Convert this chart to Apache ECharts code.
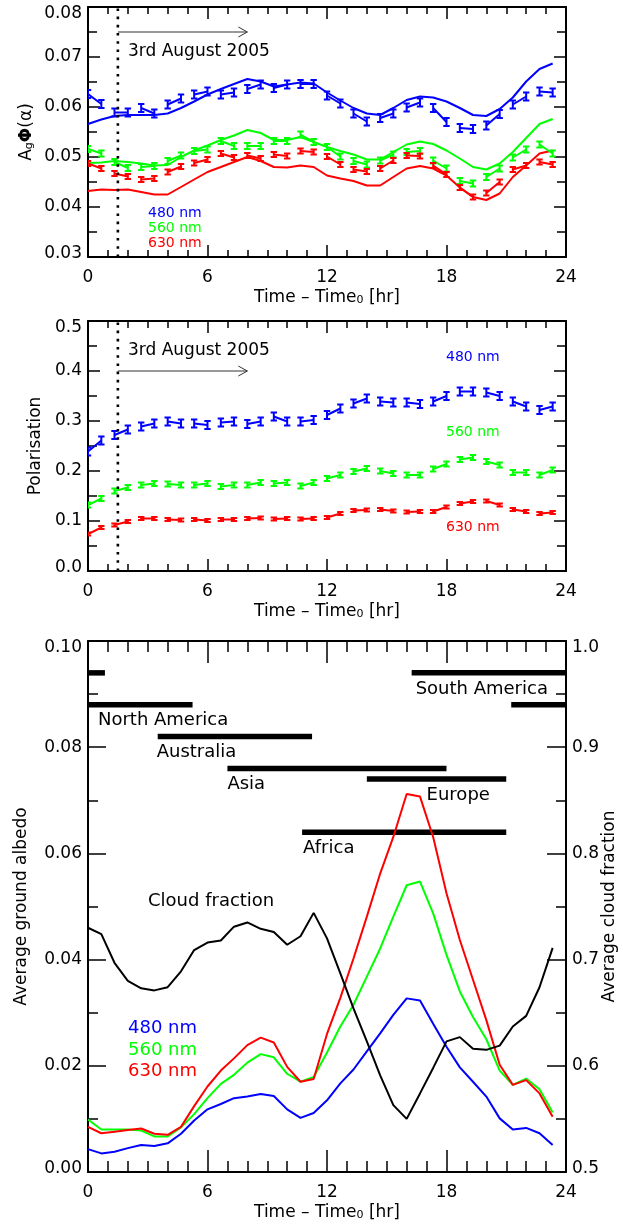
<!DOCTYPE html>
<html><head><meta charset="utf-8">
<script src="https://cdn.jsdelivr.net/npm/echarts@6/dist/echarts.min.js"></script>
<style>html,body{margin:0;padding:0;background:#fff}#c{width:623px;height:1232px}</style>
</head><body><div id="c"></div>
<script>
// ---------------- data ----------------
const T = [0,0.67,1.33,2,2.67,3.33,4,4.67,5.33,6,6.67,7.33,8,8.67,9.33,10,10.67,11.33,12,12.67,13.33,14,14.67,15.33,16,16.67,17.33,18,18.67,19.33,20,20.67,21.33,22,22.67,23.33];
const X_TICKS = [0, 24, 6];

// Panel 1: A_g Phi(alpha)
const P1_OBS_480 = [0.0626,0.0606,0.0589,0.0589,0.0598,0.0587,0.0605,0.0617,0.0625,0.0631,0.0625,0.0629,0.0636,0.0645,0.0638,0.0645,0.0646,0.0646,0.0623,0.0607,0.0587,0.0571,0.0578,0.0587,0.0599,0.0609,0.0598,0.0570,0.0558,0.0556,0.0563,0.0586,0.0605,0.0621,0.0631,0.0629];
const P1_OBS_560 = [0.0516,0.0507,0.0490,0.0478,0.0480,0.0482,0.0492,0.0503,0.0512,0.0515,0.0532,0.0522,0.0522,0.0522,0.0532,0.0532,0.0545,0.0530,0.0520,0.0501,0.0492,0.0485,0.0493,0.0505,0.0510,0.0512,0.0493,0.0477,0.0452,0.0447,0.0460,0.0477,0.0499,0.0515,0.0525,0.0507];
const P1_OBS_630 = [0.0487,0.0477,0.0467,0.0461,0.0455,0.0457,0.0470,0.0481,0.0488,0.0495,0.0507,0.0499,0.0503,0.0497,0.0505,0.0502,0.0512,0.0510,0.0501,0.0485,0.0475,0.0471,0.0477,0.0493,0.0503,0.0502,0.0483,0.0465,0.0439,0.0420,0.0428,0.0450,0.0475,0.0483,0.0490,0.0485];
const P1_ERR = [0.0008, 0.0006, 0.0005];
const P1_MOD_480 = [0.0566,0.0575,0.0582,0.0584,0.0584,0.0584,0.0587,0.0598,0.0611,0.0625,0.0636,0.0646,0.0656,0.0651,0.0641,0.0645,0.0649,0.0647,0.0629,0.0613,0.0598,0.0587,0.0584,0.0598,0.0614,0.0621,0.0619,0.0611,0.0598,0.0584,0.0582,0.0596,0.0619,0.0651,0.0676,0.0687];
const P1_MOD_560 = [0.0488,0.0489,0.0492,0.0490,0.0487,0.0483,0.0484,0.0500,0.0513,0.0523,0.0534,0.0543,0.0554,0.0548,0.0534,0.0534,0.0540,0.0530,0.0520,0.0512,0.0505,0.0495,0.0495,0.0510,0.0525,0.0531,0.0526,0.0513,0.0497,0.0480,0.0475,0.0487,0.0510,0.0538,0.0566,0.0576];
const P1_MOD_630 = [0.0432,0.0435,0.0434,0.0435,0.0430,0.0425,0.0425,0.0440,0.0455,0.0470,0.0480,0.0490,0.0500,0.0492,0.0480,0.0479,0.0483,0.0480,0.0463,0.0457,0.0452,0.0443,0.0443,0.0460,0.0477,0.0482,0.0477,0.0463,0.0439,0.0420,0.0414,0.0427,0.0460,0.0483,0.0507,0.0513];
const P1_Y_TICKS = [0.03, 0.08, 0.01];

// Panel 2: Polarisation
const P2_OBS_480 = [0.239,0.261,0.272,0.283,0.289,0.295,0.299,0.295,0.295,0.292,0.297,0.299,0.294,0.299,0.309,0.299,0.299,0.302,0.312,0.325,0.335,0.345,0.339,0.337,0.337,0.334,0.339,0.350,0.359,0.359,0.357,0.350,0.339,0.329,0.322,0.329];
const P2_OBS_560 = [0.132,0.145,0.160,0.167,0.172,0.175,0.174,0.172,0.172,0.175,0.169,0.172,0.172,0.177,0.175,0.177,0.170,0.177,0.185,0.192,0.199,0.205,0.200,0.195,0.192,0.192,0.204,0.214,0.223,0.227,0.219,0.212,0.197,0.197,0.192,0.202];
const P2_OBS_630 = [0.074,0.087,0.092,0.099,0.105,0.105,0.103,0.102,0.103,0.101,0.103,0.103,0.105,0.106,0.104,0.105,0.104,0.105,0.107,0.115,0.121,0.122,0.123,0.120,0.118,0.119,0.119,0.128,0.135,0.139,0.140,0.132,0.123,0.119,0.115,0.117];
const P2_ERR = [0.008, 0.005, 0.003];
const P2_Y_TICKS = [0, 0.5, 0.1];

// Panel 3: ground albedo and cloud fraction
const P3_ALB_480 = [0.0043,0.0035,0.0038,0.0045,0.0051,0.0049,0.0054,0.0072,0.0097,0.0118,0.0128,0.0139,0.0142,0.0147,0.0143,0.0118,0.0102,0.0111,0.0135,0.0167,0.0193,0.0227,0.0261,0.0296,0.0327,0.0323,0.0279,0.0236,0.0197,0.0170,0.0142,0.0101,0.0080,0.0083,0.0073,0.0051];
const P3_ALB_560 = [0.0099,0.0080,0.0080,0.0080,0.0078,0.0067,0.0067,0.0084,0.0109,0.0139,0.0166,0.0183,0.0206,0.0222,0.0216,0.0185,0.0170,0.0179,0.0225,0.0274,0.0315,0.0368,0.0421,0.0481,0.0540,0.0547,0.0487,0.0409,0.0340,0.0292,0.0250,0.0191,0.0164,0.0176,0.0156,0.0112];
const P3_ALB_630 = [0.0085,0.0073,0.0076,0.0079,0.0082,0.0072,0.0070,0.0085,0.0124,0.0161,0.0191,0.0214,0.0239,0.0253,0.0244,0.0198,0.0170,0.0175,0.0260,0.0328,0.0402,0.0481,0.0562,0.0631,0.0712,0.0707,0.0631,0.0525,0.0437,0.0362,0.0286,0.0202,0.0164,0.0173,0.0148,0.0104];
const P3_CLOUD = [0.730,0.724,0.697,0.680,0.673,0.671,0.674,0.689,0.709,0.716,0.718,0.731,0.735,0.729,0.726,0.714,0.722,0.744,0.720,0.687,0.654,0.623,0.591,0.563,0.550,0.574,0.598,0.623,0.627,0.616,0.615,0.619,0.637,0.647,0.674,0.711];
const P3_LEFT_TICKS = [0, 0.1, 0.02];
const P3_RIGHT_TICKS = [0.5, 1.0, 0.1];

// Regions in view (hours; end > 24 wraps round to the start of the axis)
const REGION_NAME  = ['South America','North America','Australia','Asia','Europe','Africa'];
const REGION_START = [16.25, 21.25, 3.5, 7.0, 14.0, 10.75];
const REGION_END   = [24.85, 29.25, 11.25, 18.0, 21.0, 21.0];
const REGION_LEVEL = [0.094, 0.088, 0.082, 0.076, 0.074, 0.064];
const REGION_LABEL_AT = [16.45, 0.5, 3.45, 7.0, 17.0, 10.8];

// Date marker
const DATE_LINE = 1.5;
const ARROW_END = 8.0;
const ARROW_LEVEL = [0.075, 0.40];
const DATE_TEXT = '3rd August 2005';
const WAVE_LABELS = ['480 nm', '560 nm', '630 nm'];

// ---------------- style ----------------
const FONT = '"DejaVu Sans", sans-serif';
const COL = ['#0000ff', '#00ff00', '#ff0000'];
const BLACK = '#000000';

const G = [
  {left: 88, top: 7, width: 478, height: 250},
  {left: 88, top: 321, width: 478, height: 250},
  {left: 88, top: 641, width: 478, height: 531}
];

const X_NAME = 'Time \u2013 Time{s|0} [hr]';
const nameStyle = {color: BLACK, fontSize: 17, fontFamily: FONT,
  rich: {
    n: {fontSize: 17, fontFamily: FONT, color: BLACK},
    s: {fontSize: 11, fontFamily: FONT, color: BLACK, verticalAlign: 'bottom', lineHeight: 10},
    g: {fontSize: 11, fontFamily: FONT, color: BLACK, verticalAlign: 'bottom', lineHeight: 10},
    b: {fontSize: 17, fontFamily: FONT, color: BLACK, fontWeight: 'bold'}
  }};
const labelRich = {
  t: {fontSize: 17, fontFamily: FONT, color: BLACK, padding: [13, 0, 0, 0]},
  m: {fontSize: 17, fontFamily: FONT, color: BLACK, padding: [0, 0, 7, 0]}
};

function xAx(grid, pos, major, minor) {
  const bottom = pos === 'bottom';
  return {
    gridIndex: grid, type: 'value', min: X_TICKS[0], max: X_TICKS[1], interval: X_TICKS[2], position: pos,
    axisLine: {show: true, onZero: false, lineStyle: {color: BLACK, width: 2}},
    axisTick: {show: true, inside: true, length: major, lineStyle: {color: BLACK, width: 1.5}},
    minorTick: {show: true, splitNumber: 6, length: minor, lineStyle: {color: BLACK, width: 1.5}},
    splitLine: {show: false}, minorSplitLine: {show: false},
    axisLabel: bottom ? {show: true, margin: 12, color: BLACK, fontSize: 17, fontFamily: FONT} : {show: false},
    name: bottom ? X_NAME : '', nameLocation: 'middle', nameGap: 32, nameMoveOverlap: false, nameTextStyle: nameStyle
  };
}
function yAx(grid, pos, ticks, dec, showLabel, major, minor, name, nameGap) {
  const span = ticks[1] - ticks[0];
  return {
    gridIndex: grid, type: 'value', min: ticks[0], max: ticks[1], interval: ticks[2], position: pos,
    axisLine: {show: true, onZero: false, lineStyle: {color: BLACK, width: 2}},
    axisTick: {show: true, inside: true, length: major, lineStyle: {color: BLACK, width: 1.5}},
    minorTick: {show: true, splitNumber: 2, length: minor, lineStyle: {color: BLACK, width: 1.5}},
    splitLine: {show: false}, minorSplitLine: {show: false},
    axisLabel: showLabel ? {show: true, margin: 6, color: BLACK, fontSize: 17, fontFamily: FONT, rich: labelRich,
      formatter: v => {
        const s = Number(v).toFixed(dec);
        if (Math.abs(v - ticks[1]) < span * 1e-6) return '{t|' + s + '}';
        if (Math.abs(v - ticks[0]) < span * 1e-6) return '{m|' + s + '}';
        return s;
      }} : {show: false},
    name: name || '', nameLocation: 'middle', nameGap: nameGap || 0, nameMoveOverlap: false, nameTextStyle: nameStyle
  };
}

function obsSeries(xi, yi, vals, err, color) {
  return {
    type: 'custom', xAxisIndex: xi, yAxisIndex: yi, clip: true, z: 4, silent: true,
    data: T.map((t, i) => [t, vals[i]]),
    renderItem: function (params, api) {
      const i = params.dataIndex;
      const x = api.value(0), y = api.value(1);
      const p = api.coord([x, y]);
      const top = api.coord([x, y + err]);
      const bot = api.coord([x, y - err]);
      const st = {stroke: color, lineWidth: 2, fill: null};
      const cw = 3.2;
      const ch = [
        {type: 'line', shape: {x1: p[0], y1: top[1], x2: p[0], y2: bot[1]}, style: st},
        {type: 'line', shape: {x1: p[0] - cw, y1: top[1], x2: p[0] + cw, y2: top[1]}, style: st},
        {type: 'line', shape: {x1: p[0] - cw, y1: bot[1], x2: p[0] + cw, y2: bot[1]}, style: st}
      ];
      if (i % 2 === 0 && i + 1 < T.length) {
        const q = api.coord([T[i + 1], vals[i + 1]]);
        ch.push({type: 'line', shape: {x1: p[0], y1: p[1], x2: q[0], y2: q[1]}, style: st});
      }
      return {type: 'group', children: ch};
    }
  };
}
function lineSeries(xi, yi, vals, color) {
  return {
    type: 'line', xAxisIndex: xi, yAxisIndex: yi, showSymbol: false, symbol: 'none', silent: true, z: 3,
    data: T.map((t, i) => [t, vals[i]]),
    lineStyle: {color: color, width: 2}, itemStyle: {color: color}
  };
}
function markerSeries(xi, yi, ticks, level) {
  return {
    type: 'custom', xAxisIndex: xi, yAxisIndex: yi, clip: false, z: 5, silent: true,
    data: [[DATE_LINE, level, ARROW_END]],
    renderItem: function (params, api) {
      const a = api.coord([api.value(0), ticks[0]]);
      const b = api.coord([api.value(0), ticks[1]]);
      const s = api.coord([api.value(0), api.value(1)]);
      const e = api.coord([api.value(2), api.value(1)]);
      return {type: 'group', children: [
        {type: 'line', shape: {x1: a[0], y1: a[1], x2: b[0], y2: b[1]},
         style: {stroke: BLACK, lineWidth: 2.6, lineDash: [2.6, 5.6], fill: null}},
        {type: 'line', shape: {x1: s[0], y1: s[1], x2: e[0], y2: e[1]}, style: {stroke: '#333', lineWidth: 1, fill: null}},
        {type: 'polyline', shape: {points: [[e[0] - 9, e[1] - 5], [e[0], e[1]], [e[0] - 9, e[1] + 5]]},
         style: {stroke: '#333', lineWidth: 1, fill: null}}
      ]};
    }
  };
}
const regionSeries = {
  type: 'custom', xAxisIndex: 4, yAxisIndex: 4, clip: false, z: 2, silent: true,
  data: REGION_NAME.map((n, i) => [REGION_START[i], REGION_END[i], REGION_LEVEL[i]]),
  renderItem: function (params, api) {
    const i = params.dataIndex;
    const s = api.value(0), e = api.value(1), y = api.value(2);
    const segs = [[s, Math.min(e, 24)]];
    if (e > 24) segs.push([0, e - 24]);
    const ch = segs.map(sg => {
      const p = api.coord([sg[0], y]), q = api.coord([sg[1], y]);
      return {type: 'line', shape: {x1: p[0], y1: p[1], x2: q[0], y2: q[1]}, style: {stroke: BLACK, lineWidth: 5.5, fill: null}};
    });
    const l = api.coord([REGION_LABEL_AT[i], y]);
    ch.push({type: 'text', x: l[0], y: l[1] + 16,
      style: {text: REGION_NAME[i], fill: BLACK, font: '18px ' + FONT, align: 'left', verticalAlign: 'middle'}});
    return {type: 'group', children: ch};
  }
};

function txt(x, y, text, color, size) {
  return {type: 'text', x: x, y: y, silent: true,
    style: {text: text, fill: color, font: size + 'px ' + FONT, align: 'left', verticalAlign: 'middle'}};
}

const option = {
  backgroundColor: '#ffffff',
  animation: false,
  grid: G.map(g => Object.assign({containLabel: false, outerBoundsMode: 'none', show: false}, g)),
  xAxis: [
    xAx(0, 'bottom', 12, 7), xAx(0, 'top', 12, 7),
    xAx(1, 'bottom', 12, 7), xAx(1, 'top', 12, 7),
    xAx(2, 'bottom', 22, 11), xAx(2, 'top', 22, 11)
  ],
  yAxis: [
    yAx(0, 'left', P1_Y_TICKS, 2, true, 12, 9, '{n|A}{g|g}{b|\u03A6}{n|(\u03B1)}', 53),
    yAx(0, 'right', P1_Y_TICKS, 2, false, 12, 9),
    yAx(1, 'left', P2_Y_TICKS, 1, true, 12, 9, 'Polarisation', 44),
    yAx(1, 'right', P2_Y_TICKS, 1, false, 12, 9),
    yAx(2, 'left', P3_LEFT_TICKS, 2, true, 18, 10, 'Average ground albedo', 58),
    yAx(2, 'right', P3_RIGHT_TICKS, 1, true, 19, 10, 'Average cloud fraction', 35)
  ],
  graphic: [
    txt(128, 52, DATE_TEXT, BLACK, 17),
    txt(148, 213, WAVE_LABELS[0], COL[0], 14),
    txt(148, 228, WAVE_LABELS[1], COL[1], 14),
    txt(148, 243, WAVE_LABELS[2], COL[2], 14),
    txt(128, 351, DATE_TEXT, BLACK, 17),
    txt(446, 357, WAVE_LABELS[0], COL[0], 14),
    txt(446, 432, WAVE_LABELS[1], COL[1], 14),
    txt(446, 527, WAVE_LABELS[2], COL[2], 14),
    txt(148, 901, 'Cloud fraction', BLACK, 18),
    txt(128, 1028, WAVE_LABELS[0], COL[0], 18),
    txt(128, 1050, WAVE_LABELS[1], COL[1], 18),
    txt(128, 1071, WAVE_LABELS[2], COL[2], 18)
  ],
  series: [
    lineSeries(0, 0, P1_MOD_480, COL[0]),
    lineSeries(0, 0, P1_MOD_560, COL[1]),
    lineSeries(0, 0, P1_MOD_630, COL[2]),
    obsSeries(0, 0, P1_OBS_480, P1_ERR[0], COL[0]),
    obsSeries(0, 0, P1_OBS_560, P1_ERR[1], COL[1]),
    obsSeries(0, 0, P1_OBS_630, P1_ERR[2], COL[2]),
    markerSeries(0, 0, P1_Y_TICKS, ARROW_LEVEL[0]),
    obsSeries(2, 2, P2_OBS_480, P2_ERR[0], COL[0]),
    obsSeries(2, 2, P2_OBS_560, P2_ERR[1], COL[1]),
    obsSeries(2, 2, P2_OBS_630, P2_ERR[2], COL[2]),
    markerSeries(2, 2, P2_Y_TICKS, ARROW_LEVEL[1]),
    regionSeries,
    lineSeries(4, 4, P3_ALB_480, COL[0]),
    lineSeries(4, 4, P3_ALB_560, COL[1]),
    lineSeries(4, 4, P3_ALB_630, COL[2]),
    lineSeries(4, 5, P3_CLOUD, BLACK)
  ]
};
const chart = echarts.init(document.getElementById('c'), null, {renderer: 'canvas'});
chart.setOption(option);
</script></body></html>
